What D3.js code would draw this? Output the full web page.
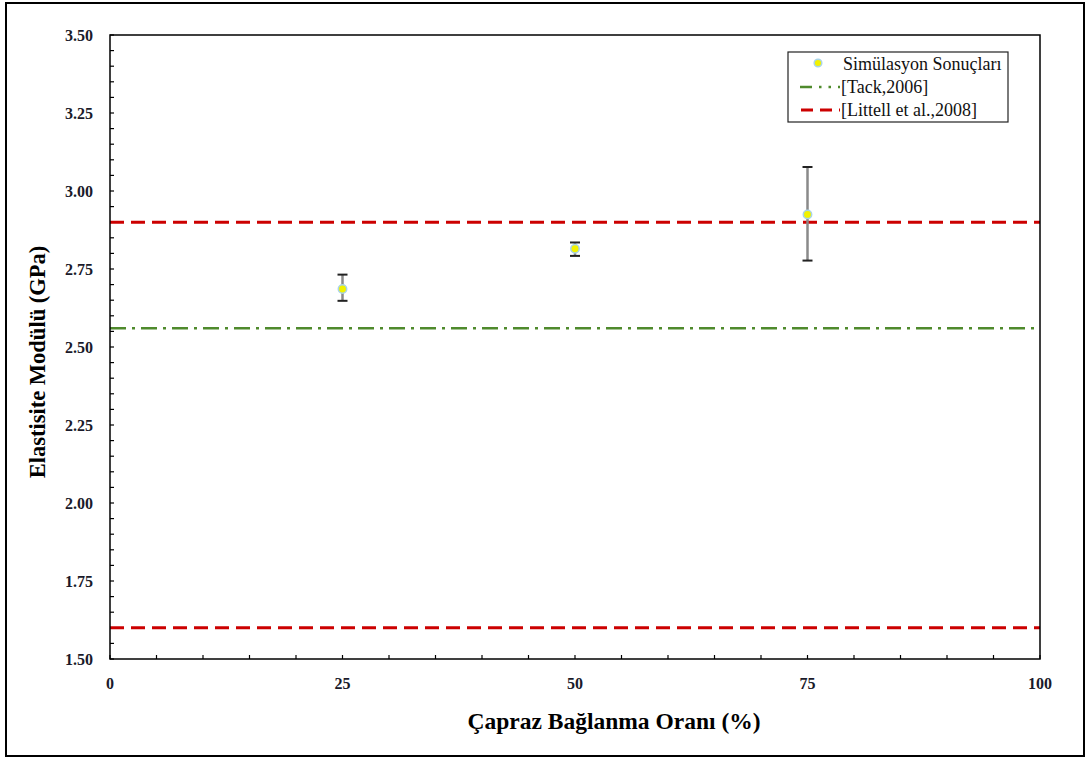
<!DOCTYPE html>
<html><head><meta charset="utf-8">
<script src="https://cdn.jsdelivr.net/npm/d3@7"></script>
<style>body{margin:0;background:#fff}svg{display:block}</style>
</head><body>
<svg id="c" width="1088" height="760"></svg>
<script>
const xCats = [25, 50, 75];
const simValues = [2.686, 2.815, 2.925];
const errLow = [2.648, 2.792, 2.777];
const errHigh = [2.732, 2.835, 3.077];
const tackValue = 2.56;
const littellValues = [2.90, 1.60];
const yTicks = [1.50, 1.75, 2.00, 2.25, 2.50, 2.75, 3.00, 3.25, 3.50];
const xTicks = [0, 25, 50, 75, 100];
const legendLabels = ["Simülasyon Sonuçları", "[Tack,2006]", "[Littell et al.,2008]"];

const svg = d3.select("#c");
const L = 110, R = 1040, T = 35, B = 659;
const x = d3.scaleLinear().domain([0, 100]).range([L, R]);
const y = d3.scaleLinear().domain([1.5, 3.5]).range([B, T]);
const serif = "'Liberation Serif','Times New Roman',serif";

// outer frame
svg.append("rect").attr("x", 6).attr("y", 3).attr("width", 1078).attr("height", 753)
  .attr("fill", "none").attr("stroke", "#000").attr("stroke-width", 2);

// minor ticks
const g = svg.append("g");
d3.range(1.5, 3.5001, 0.05).forEach(v => {
  g.append("line").attr("x1", L).attr("x2", L + 4).attr("y1", y(v)).attr("y2", y(v))
    .attr("stroke", "#000").attr("stroke-width", 1.2);
});
d3.range(0, 100.001, 5).forEach(v => {
  g.append("line").attr("x1", x(v)).attr("x2", x(v)).attr("y1", B).attr("y2", B - 4)
    .attr("stroke", "#000").attr("stroke-width", 1.2);
});

// reference lines
littellValues.forEach(v => {
  svg.append("line").attr("x1", L).attr("x2", R).attr("y1", y(v)).attr("y2", y(v))
    .attr("stroke", "#cc0000").attr("stroke-width", 3).attr("stroke-dasharray", "14,7");
});
svg.append("line").attr("x1", L).attr("x2", R).attr("y1", y(tackValue)).attr("y2", y(tackValue))
  .attr("stroke", "#4f8a2c").attr("stroke-width", 2.5).attr("stroke-dasharray", "16,6,3,6");

// plot border
svg.append("rect").attr("x", L).attr("y", T).attr("width", R - L).attr("height", B - T)
  .attr("fill", "none").attr("stroke", "#000").attr("stroke-width", 1.5);

// error bars
xCats.forEach((c, i) => {
  const cx = x(c);
  svg.append("line").attr("x1", cx).attr("x2", cx).attr("y1", y(errLow[i])).attr("y2", y(errHigh[i]))
    .attr("stroke", "#8a8a8a").attr("stroke-width", 2.5);
  [errLow[i], errHigh[i]].forEach(v => {
    svg.append("line").attr("x1", cx - 5).attr("x2", cx + 5).attr("y1", y(v)).attr("y2", y(v))
      .attr("stroke", "#222").attr("stroke-width", 2);
  });
});
// markers
svg.selectAll("circle.pt").data(simValues).enter().append("circle")
  .attr("cx", (d, i) => x(xCats[i])).attr("cy", d => y(d)).attr("r", 4.2)
  .attr("fill", "#f2f200").attr("stroke", "#a8d4e8").attr("stroke-width", 1.5);

// tick labels
svg.selectAll("text.yt").data(yTicks).enter().append("text")
  .attr("x", 93).attr("y", d => y(d)).attr("dy", "0.35em").attr("text-anchor", "end")
  .attr("font-family", serif).attr("font-weight", "bold").attr("font-size", 16).attr("fill", "#1a1a2a")
  .text(d => d.toFixed(2));
svg.selectAll("text.xt").data(xTicks).enter().append("text")
  .attr("x", d => x(d)).attr("y", 689).attr("text-anchor", "middle")
  .attr("font-family", serif).attr("font-weight", "bold").attr("font-size", 16).attr("fill", "#1a1a2a")
  .text(d => d);

// axis titles
svg.append("text").attr("x", 614).attr("y", 729).attr("text-anchor", "middle")
  .attr("font-family", serif).attr("font-weight", "bold").attr("font-size", 23.5)
  .text("Çapraz Bağlanma Oranı (%)");
svg.append("text").attr("transform", "translate(45,362) rotate(-90)").attr("text-anchor", "middle")
  .attr("font-family", serif).attr("font-weight", "bold").attr("font-size", 22.5)
  .text("Elastisite Modülü (GPa)");

// legend
const lg = svg.append("g");
lg.append("rect").attr("x", 788).attr("y", 52).attr("width", 220).attr("height", 70)
  .attr("fill", "#fff").attr("stroke", "#222").attr("stroke-width", 1.2);
lg.append("circle").attr("cx", 818).attr("cy", 63).attr("r", 3.8)
  .attr("fill", "#f2f200").attr("stroke", "#a8d4e8").attr("stroke-width", 1.5);
lg.append("line").attr("x1", 800).attr("x2", 840).attr("y1", 87).attr("y2", 87)
  .attr("stroke", "#4f8a2c").attr("stroke-width", 2.5).attr("stroke-dasharray", "12,7,2.5,7,2.5,7");
lg.append("line").attr("x1", 801).attr("x2", 840).attr("y1", 110).attr("y2", 110)
  .attr("stroke", "#cc0000").attr("stroke-width", 3).attr("stroke-dasharray", "12,7");
lg.selectAll("text").data(legendLabels).enter().append("text")
  .attr("x", (d, i) => i === 0 ? 843 : 841).attr("y", (d, i) => 64 + i * 23).attr("dy", "0.35em")
  .attr("font-family", serif).attr("font-size", 18).attr("fill", "#111").text(d => d);
</script>
</body></html>
